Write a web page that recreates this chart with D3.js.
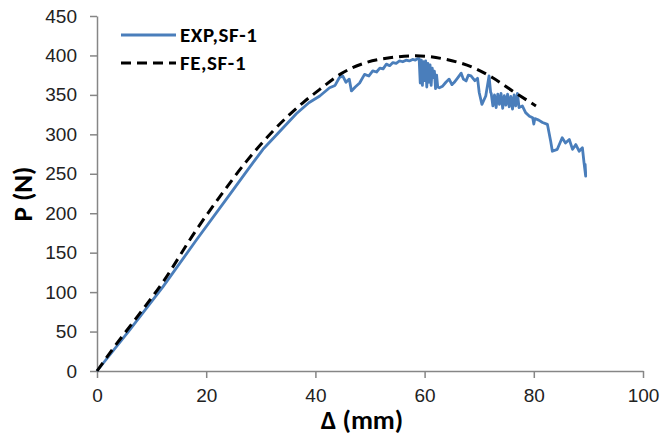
<!DOCTYPE html>
<html>
<head>
<meta charset="utf-8">
<script src="https://cdn.jsdelivr.net/npm/d3@7"></script>
<style>
  body { margin: 0; background: #fff; }
  svg { display: block; font-family: Carlito, Lato, "Liberation Sans", sans-serif; }
  .axis path, .axis line { stroke: #868686; stroke-width: 1.5; }
  .axis text { font-size: 19px; fill: #222; }
</style>
</head>
<body>
<svg id="chart" width="660" height="435"></svg>
<script>
// tick labels
var xTicks = [0, 20, 40, 60, 80, 100];
var yTicks = [0, 50, 100, 150, 200, 250, 300, 350, 400, 450];

// FE, SF-1 (dashed)
var feX = [0, 3, 6.9, 12.1, 18.2, 22.5, 27.4, 32.2, 37.7, 40.8, 44.5, 49.3, 53.6, 58.4, 63.9, 68.8, 72.4, 76.1, 80.4];
var feP = [0, 29, 64.5, 113, 179, 221, 266, 304, 340, 357, 376, 391, 397, 399.5, 395, 385, 372, 355, 336];

// EXP, SF-1 (solid)
var expX = [0, 6, 12.1, 18.2, 24.3, 27.5, 30.4, 33.5, 36.5, 38.8, 40.8, 42.6, 43.6, 44.4, 45.0, 45.6, 46.2, 46.6, 47.3, 48.1, 49.0, 49.8, 50.5, 51.2, 51.8, 52.4, 53.0, 53.6, 54.2, 54.8, 55.4, 56.0, 56.6, 57.2, 57.8, 58.3, 58.7,
  59.0, 59.2, 59.4, 59.6, 59.8, 60.0, 60.2, 60.4, 60.6, 60.8, 61.0, 61.2, 61.4, 61.6, 61.8, 62.0, 62.2, 62.4,
  62.7, 63.3, 63.9, 64.5, 65.0, 65.4, 66.1, 66.7, 67.1, 67.6, 68.0, 68.5, 69.2, 69.7, 70.0, 70.5, 71.2, 71.8, 72.1,
  72.2, 72.5, 72.8, 73.1, 73.4, 73.7, 74.0, 74.3, 74.6, 74.9, 75.2, 75.5, 75.8, 76.1, 76.4, 76.7, 77.0, 77.3,
  77.9, 78.5, 79.2, 79.8, 80.0, 80.2, 80.9, 81.6, 82.5, 83.1, 83.4, 84.3, 85.2, 85.8, 86.5, 87.1, 87.7, 88.3, 88.9, 89.2, 89.5, 89.4, 89.5];
var expP = [0, 52, 107, 166, 223.5, 254, 281, 304, 326, 340, 348.6, 359, 362, 372, 374, 366, 370, 355, 360, 365, 376, 374, 380.4, 379, 384, 383, 389, 387, 391, 390, 393, 392, 394, 393, 395, 394, 396,
  396, 365, 394, 362, 392, 368, 393, 360, 390, 366, 388, 362, 384, 372, 380, 358, 375, 360,
  359, 361, 366, 370, 363, 365.6, 372, 377.5, 370, 367.7, 375, 374, 368, 371, 353, 338, 348.6, 374, 353,
  352, 336, 350, 334, 351, 338, 352, 333, 349, 337, 351, 335, 348, 332, 350, 336, 352, 334,
  336, 327.5, 323, 321, 313, 320, 318, 315, 312.6, 291, 278.6, 281, 295.7, 289, 293.5, 281, 287, 278.6, 283, 264, 247, 262, 250];

var feData = feX.map(function(d, i) { return [d, feP[i]]; });
var expData = expX.map(function(d, i) { return [d, expP[i]]; });

var svg = d3.select("#chart");
var x = d3.scaleLinear().domain([0, 100]).range([97, 643]);
var y = d3.scaleLinear().domain([0, 450]).range([371, 16]);

svg.append("g")
    .attr("class", "axis")
    .attr("transform", "translate(0," + y(0) + ")")
    .call(d3.axisBottom(x).tickValues(xTicks).tickSize(7).tickSizeOuter(0).tickPadding(11));

svg.append("g")
    .attr("class", "axis")
    .attr("transform", "translate(" + x(0) + ",0)")
    .call(d3.axisLeft(y).tickValues(yTicks).tickSize(7).tickSizeOuter(0).tickPadding(13));

var line = d3.line()
    .x(function(d) { return x(d[0]); })
    .y(function(d) { return y(d[1]); });

svg.append("path")
    .datum(expData)
    .attr("fill", "none")
    .attr("stroke", "#4a7ebb")
    .attr("stroke-width", 2.8)
    .attr("stroke-linejoin", "round")
    .attr("d", line);

svg.append("path")
    .datum(feData)
    .attr("fill", "none")
    .attr("stroke", "#000")
    .attr("stroke-width", 3)
    .attr("stroke-dasharray", "10,6")
    .attr("d", line.curve(d3.curveMonotoneX));

// axis titles
svg.append("text")
    .attr("x", 362).attr("y", 429)
    .attr("text-anchor", "middle")
    .style("font-size", "27px").style("font-weight", "bold")
    .text("Δ (mm)");

svg.append("text")
    .attr("transform", "translate(32,194) rotate(-90)")
    .attr("text-anchor", "middle")
    .style("font-size", "27px").style("font-weight", "bold")
    .text("P (N)");

// legend
var legend = [
  { name: "EXP,SF-1", color: "#4a7ebb", dash: null, w: 2.8 },
  { name: "FE,SF-1", color: "#000", dash: "10,6", w: 3 }
];
legend.forEach(function(l, i) {
  var ly = 35 + i * 28;
  svg.append("line")
      .attr("x1", 121).attr("x2", 176).attr("y1", ly).attr("y2", ly)
      .attr("stroke", l.color).attr("stroke-width", l.w)
      .attr("stroke-dasharray", l.dash);
  svg.append("text")
      .attr("x", 180).attr("y", ly + 7)
      .style("font-size", "21px").style("font-weight", "bold")
      .style("letter-spacing", "0.6px")
      .text(l.name);
});
</script>
</body>
</html>
